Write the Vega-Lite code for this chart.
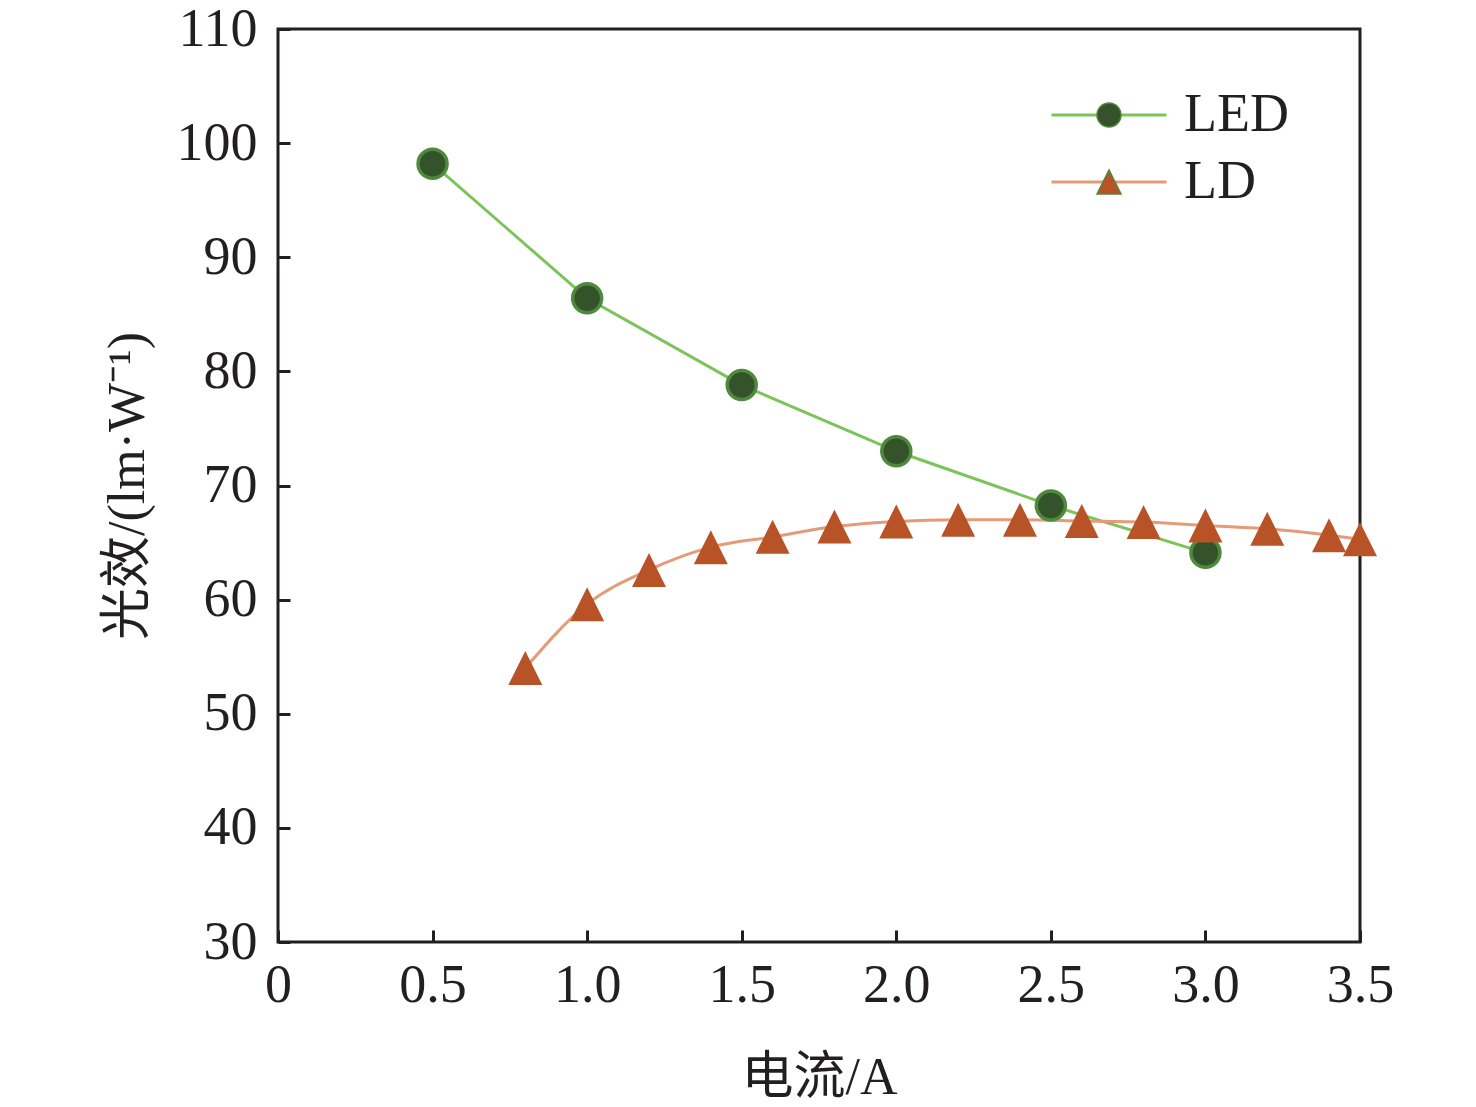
{
  "$schema": "https://vega.github.io/schema/vega-lite/v6.json",
  "autosize": {"type": "none"},
  "padding": {"left": 278, "top": 29, "right": 116, "bottom": 165},
  "width": 1082,
  "height": 913,
  "background": "white",
  "config": {
    "font": "Liberation Serif, Noto Sans CJK SC",
    "view": {"stroke": "#231f20", "strokeWidth": 3},
    "axis": {
      "domain": false,
      "grid": false,
      "ticks": true,
      "tickColor": "#231f20",
      "tickWidth": 3,
      "tickSize": -12,
      "labelFont": "Liberation Serif",
      "labelFontSize": 54,
      "labelColor": "#231f20",
      "titleFont": "Liberation Serif, Noto Sans CJK SC",
      "titleFontSize": 52,
      "titleFontWeight": "normal",
      "titleColor": "#231f20"
    },
    "legend": {
      "labelFont": "Liberation Serif",
      "labelFontSize": 54,
      "labelColor": "#231f20",
      "padding": 0,
      "rowPadding": 13,
      "labelOffset": 48
    }
  },
  "data": {
    "values": [
      {"series": "LED", "x": 0.5, "y": 98.2},
      {"series": "LED", "x": 1.0, "y": 86.4},
      {"series": "LED", "x": 1.5, "y": 78.8},
      {"series": "LED", "x": 2.0, "y": 73.0},
      {"series": "LED", "x": 2.5, "y": 68.25},
      {"series": "LED", "x": 3.0, "y": 64.1},
      {"series": "LD", "x": 0.8, "y": 54.0},
      {"series": "LD", "x": 1.0, "y": 59.6},
      {"series": "LD", "x": 1.2, "y": 62.6},
      {"series": "LD", "x": 1.4, "y": 64.6},
      {"series": "LD", "x": 1.6, "y": 65.5},
      {"series": "LD", "x": 1.8, "y": 66.4},
      {"series": "LD", "x": 2.0, "y": 66.85},
      {"series": "LD", "x": 2.2, "y": 67.0},
      {"series": "LD", "x": 2.4, "y": 67.0},
      {"series": "LD", "x": 2.6, "y": 66.9},
      {"series": "LD", "x": 2.8, "y": 66.8},
      {"series": "LD", "x": 3.0, "y": 66.5},
      {"series": "LD", "x": 3.2, "y": 66.2},
      {"series": "LD", "x": 3.4, "y": 65.65},
      {"series": "LD", "x": 3.5, "y": 65.3}
    ]
  },
  "encoding": {
    "x": {
      "field": "x",
      "type": "quantitative",
      "title": "电流/A",
      "scale": {"domain": [0, 3.5], "nice": false},
      "axis": {
        "values": [0, 0.5, 1, 1.5, 2, 2.5, 3, 3.5],
        "labelExpr": "datum.value === 0 ? '0' : format(datum.value, '.1f')",
        "labelPadding": 28,
        "labelFlush": false,
        "titlePadding": 40
      }
    },
    "y": {
      "field": "y",
      "type": "quantitative",
      "title": "光效/(lm·W⁻¹)",
      "scale": {"domain": [30, 110], "nice": false},
      "axis": {
        "values": [30, 40, 50, 60, 70, 80, 90, 100, 110],
        "labelPadding": 33,
        "labelFlush": false,
        "titlePadding": 22
      }
    }
  },
  "layer": [
    {
      "transform": [{"filter": "datum.series === 'LED'"}],
      "mark": {"type": "line", "strokeWidth": 3, "interpolate": "linear"},
      "encoding": {
        "stroke": {
          "field": "series",
          "type": "nominal",
          "scale": {"domain": ["LED", "LD"], "range": ["#7cc45a", "#e59b79"]},
          "legend": {
            "title": null,
            "orient": "none",
            "legendX": 804,
            "legendY": 59,
            "symbolType": "M-2.875,0H2.875",
            "symbolSize": 1600,
            "symbolStrokeWidth": 3
          }
        }
      }
    },
    {
      "transform": [{"filter": "datum.series === 'LD'"}],
      "mark": {"type": "line", "strokeWidth": 3, "interpolate": "monotone"},
      "encoding": {
        "stroke": {"field": "series", "type": "nominal"}
      }
    },
    {
      "transform": [
        {"filter": "datum.series === 'LED'"},
        {"calculate": "datum.series", "as": "marker"}
      ],
      "mark": {"type": "point", "filled": true, "size": 841, "stroke": "#4e8a3c", "strokeWidth": 3.5, "opacity": 1},
      "encoding": {
        "fill": {
          "field": "marker",
          "type": "nominal",
          "scale": {"domain": ["LED", "LD", "x"], "range": ["#34532b", "#b85328", "#000000"]},
          "legend": {
            "title": null,
            "orient": "none",
            "legendX": 804,
            "legendY": 59,
            "symbolSize": 576,
            "labelOpacity": 0,
            "values": ["LED", "LD"],
            "encode": {
              "symbols": {
                "update": {
                  "stroke": {"signal": "datum.value === 'LED' ? '#4e8a3c' : '#b85328'"},
                  "strokeWidth": {"signal": "datum.value === 'LED' ? 3 : 0"},
                  "opacity": {"value": 1}
                }
              }
            }
          }
        },
        "shape": {
          "field": "marker",
          "type": "nominal",
          "scale": {"domain": ["LED", "LD", "x"], "range": ["circle", "M0,-1L-1,1L1,1Z", "square"]},
          "legend": {
            "title": null,
            "orient": "none",
            "legendX": 804,
            "legendY": 59,
            "symbolSize": 576,
            "labelOpacity": 0,
            "values": ["LED", "LD"],
            "encode": {
              "symbols": {
                "update": {
                  "stroke": {"signal": "datum.value === 'LED' ? '#4e8a3c' : '#b85328'"},
                  "strokeWidth": {"signal": "datum.value === 'LED' ? 3 : 0"},
                  "opacity": {"value": 1}
                }
              }
            }
          }
        }
      }
    },
    {
      "transform": [
        {"filter": "datum.series === 'LD'"},
        {"calculate": "datum.series", "as": "marker"}
      ],
      "mark": {"type": "point", "filled": true, "size": 1156, "strokeWidth": 0, "opacity": 1},
      "encoding": {
        "fill": {"field": "marker", "type": "nominal"},
        "shape": {"field": "marker", "type": "nominal"}
      }
    }
  ]
}
